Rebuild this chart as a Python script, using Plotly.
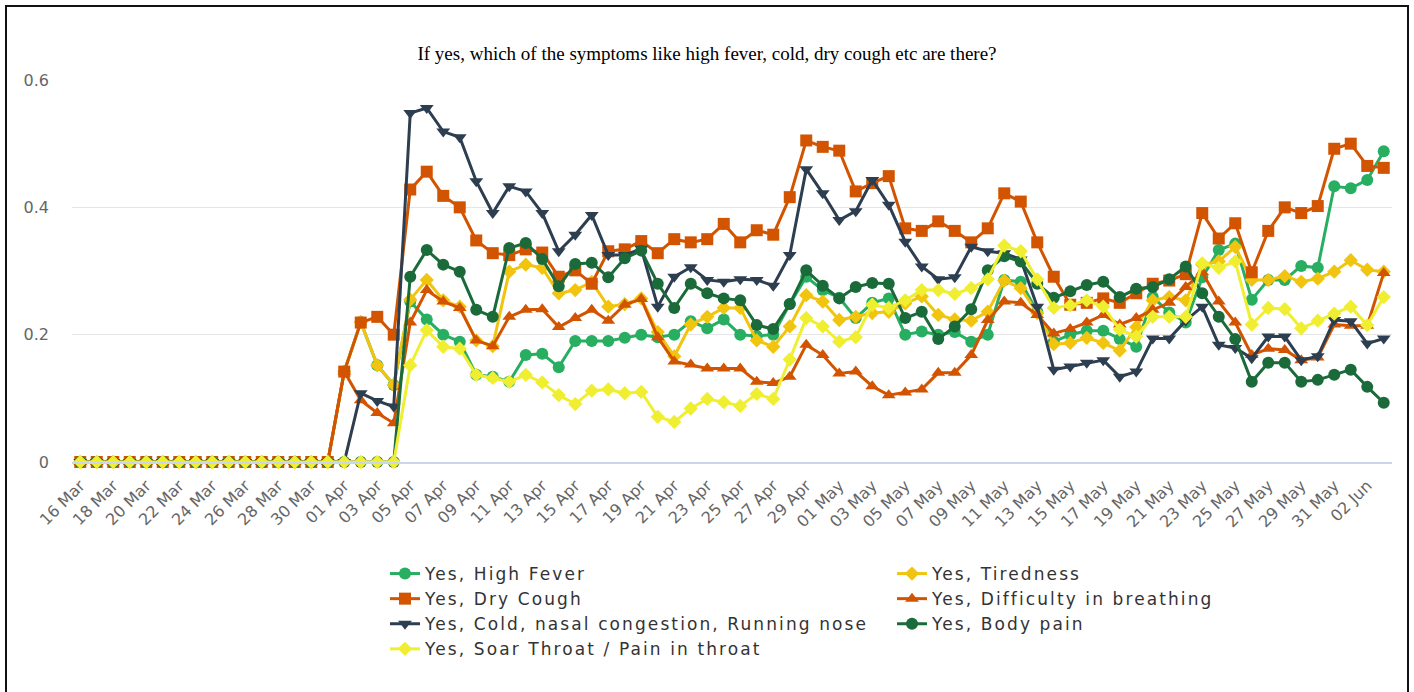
import plotly.graph_objects as go

dates = [
    "16 Mar", "17 Mar", "18 Mar", "19 Mar", "20 Mar", "21 Mar", "22 Mar", "23 Mar",
    "24 Mar", "25 Mar", "26 Mar", "27 Mar", "28 Mar", "29 Mar", "30 Mar", "31 Mar",
    "01 Apr", "02 Apr", "03 Apr", "04 Apr", "05 Apr", "06 Apr", "07 Apr", "08 Apr",
    "09 Apr", "10 Apr", "11 Apr", "12 Apr", "13 Apr", "14 Apr", "15 Apr", "16 Apr",
    "17 Apr", "18 Apr", "19 Apr", "20 Apr", "21 Apr", "22 Apr", "23 Apr", "24 Apr",
    "25 Apr", "26 Apr", "27 Apr", "28 Apr", "29 Apr", "30 Apr", "01 May", "02 May",
    "03 May", "04 May", "05 May", "06 May", "07 May", "08 May", "09 May", "10 May",
    "11 May", "12 May", "13 May", "14 May", "15 May", "16 May", "17 May", "18 May",
    "19 May", "20 May", "21 May", "22 May", "23 May", "24 May", "25 May", "26 May",
    "27 May", "28 May", "29 May", "30 May", "31 May", "01 Jun", "02 Jun", "03 Jun",
]

zeros16 = [0.0] * 16

high_fever = zeros16 + [
    0.142, 0.220, 0.152, 0.121, 0.252, 0.224, 0.200, 0.189, 0.137, 0.134,
    0.126, 0.168, 0.170, 0.149, 0.190, 0.190, 0.190, 0.195, 0.200, 0.196,
    0.200, 0.221, 0.210, 0.224, 0.200, 0.198, 0.200, 0.248, 0.291, 0.270,
    0.258, 0.226, 0.250, 0.257, 0.200, 0.205, 0.200, 0.204, 0.189, 0.200,
    0.286, 0.283, 0.236, 0.189, 0.200, 0.206, 0.206, 0.193, 0.181, 0.259,
    0.235, 0.219, 0.290, 0.333, 0.343, 0.255, 0.286, 0.286, 0.308, 0.305,
    0.433, 0.430, 0.443, 0.488,
]

tiredness = zeros16 + [
    0.142, 0.220, 0.152, 0.121, 0.255, 0.286, 0.254, 0.244, 0.191, 0.182,
    0.299, 0.310, 0.305, 0.265, 0.270, 0.283, 0.244, 0.248, 0.257, 0.204,
    0.166, 0.216, 0.228, 0.242, 0.242, 0.191, 0.181, 0.213, 0.262, 0.252,
    0.223, 0.228, 0.234, 0.236, 0.249, 0.260, 0.231, 0.224, 0.222, 0.236,
    0.285, 0.273, 0.234, 0.185, 0.187, 0.195, 0.187, 0.175, 0.212, 0.254,
    0.259, 0.254, 0.310, 0.315, 0.338, 0.286, 0.286, 0.292, 0.283, 0.288,
    0.299, 0.317, 0.302, 0.299,
]

dry_cough = zeros16 + [
    0.142, 0.219, 0.228, 0.200, 0.428, 0.456, 0.418, 0.400, 0.348, 0.328,
    0.325, 0.334, 0.329, 0.291, 0.301, 0.280, 0.331, 0.334, 0.347, 0.328,
    0.350, 0.345, 0.350, 0.374, 0.345, 0.364, 0.357, 0.416, 0.505, 0.495,
    0.489, 0.425, 0.438, 0.449, 0.367, 0.363, 0.378, 0.363, 0.345, 0.367,
    0.422, 0.409, 0.345, 0.291, 0.247, 0.250, 0.257, 0.250, 0.265, 0.280,
    0.285, 0.295, 0.391, 0.351, 0.375, 0.298, 0.363, 0.400, 0.391, 0.402,
    0.492, 0.500, 0.465, 0.462,
]

breathing = zeros16 + [
    0.142, 0.097, 0.077, 0.061, 0.219, 0.270, 0.252, 0.242, 0.191, 0.182,
    0.228, 0.239, 0.240, 0.212, 0.226, 0.239, 0.222, 0.247, 0.256, 0.196,
    0.158, 0.153, 0.147, 0.147, 0.147, 0.126, 0.124, 0.134, 0.184, 0.168,
    0.139, 0.142, 0.119, 0.105, 0.109, 0.114, 0.140, 0.140, 0.168, 0.223,
    0.252, 0.250, 0.231, 0.202, 0.209, 0.219, 0.231, 0.216, 0.226, 0.239,
    0.250, 0.275, 0.298, 0.252, 0.219, 0.168, 0.178, 0.176, 0.160, 0.164,
    0.216, 0.214, 0.214, 0.297,
]

cold = zeros16 + [
    0.000, 0.108, 0.096, 0.087, 0.548, 0.556, 0.519, 0.510, 0.441, 0.391,
    0.433, 0.425, 0.391, 0.331, 0.357, 0.388, 0.325, 0.325, 0.335, 0.244,
    0.291, 0.306, 0.286, 0.283, 0.287, 0.286, 0.277, 0.325, 0.460, 0.422,
    0.380, 0.394, 0.443, 0.404, 0.346, 0.307, 0.287, 0.290, 0.338, 0.331,
    0.328, 0.318, 0.244, 0.145, 0.150, 0.156, 0.160, 0.134, 0.142, 0.194,
    0.194, 0.222, 0.244, 0.184, 0.179, 0.163, 0.197, 0.197, 0.160, 0.166,
    0.223, 0.221, 0.186, 0.194,
]

body_pain = zeros16 + [
    0.000, 0.000, 0.000, 0.000, 0.291, 0.333, 0.310, 0.299, 0.239, 0.228,
    0.336, 0.344, 0.319, 0.276, 0.311, 0.313, 0.290, 0.320, 0.332, 0.280,
    0.242, 0.280, 0.265, 0.257, 0.254, 0.215, 0.209, 0.248, 0.301, 0.277,
    0.257, 0.275, 0.281, 0.280, 0.226, 0.236, 0.193, 0.213, 0.240, 0.301,
    0.323, 0.315, 0.280, 0.258, 0.268, 0.278, 0.283, 0.259, 0.272, 0.275,
    0.287, 0.307, 0.265, 0.228, 0.193, 0.126, 0.156, 0.156, 0.126, 0.129,
    0.137, 0.145, 0.118, 0.093,
]

soar_throat = zeros16 + [
    0.000, 0.000, 0.000, 0.000, 0.152, 0.207, 0.181, 0.178, 0.137, 0.132,
    0.126, 0.137, 0.125, 0.105, 0.091, 0.112, 0.114, 0.108, 0.110, 0.071,
    0.063, 0.084, 0.099, 0.094, 0.088, 0.107, 0.099, 0.161, 0.226, 0.213,
    0.189, 0.196, 0.247, 0.242, 0.254, 0.270, 0.270, 0.264, 0.273, 0.287,
    0.340, 0.331, 0.287, 0.242, 0.246, 0.254, 0.244, 0.208, 0.197, 0.228,
    0.228, 0.228, 0.312, 0.305, 0.315, 0.216, 0.242, 0.240, 0.210, 0.222,
    0.233, 0.244, 0.215, 0.259,
]

series_names = [
    "Yes, High Fever",
    "Yes, Tiredness",
    "Yes, Dry Cough",
    "Yes, Difficulty in breathing",
    "Yes, Cold, nasal congestion, Running nose",
    "Yes, Body pain",
    "Yes, Soar Throat / Pain in throat",
]
series_values = [high_fever, tiredness, dry_cough, breathing, cold, body_pain, soar_throat]
series_colors = ["#27ae60", "#f1c40f", "#d35400", "#d35400", "#2c3e50", "#1b6b3a", "#f0ee30"]
series_symbols = ["circle", "diamond", "square", "triangle-up", "triangle-down", "circle", "diamond"]
series_sizes = [12, 11, 12, 12, 12, 12, 11]

fig = go.Figure()
for name, vals, col, sym, sz in zip(series_names, series_values, series_colors, series_symbols, series_sizes):
    fig.add_trace(go.Scatter(
        x=dates, y=vals, mode="lines+markers",
        name='<span style="letter-spacing:2.1px">' + name + '</span>',
        line=dict(color=col, width=3),
        marker=dict(color=col, symbol=sym, size=sz),
        cliponaxis=False,
    ))

L, R, T, B = 72, 22, 80, 230
W, H = 1414, 692
pw, ph = W - L - R, H - T - B

def px_x(px):
    return (px - L) / pw

def px_y(py):
    return (H - B - py) / ph

fig.update_layout(
    width=W, height=H,
    autosize=False,
    margin=dict(l=L, r=R, t=T, b=B, autoexpand=False),
    paper_bgcolor="white", plot_bgcolor="white",
    title=dict(
        text="If yes, which of the symptoms like high fever, cold, dry cough etc are there?",
        font=dict(family="Liberation Serif", size=19, color="black"),
        x=0.5, xref="container", xanchor="center",
        y=1 - 53 / H, yref="container", yanchor="middle",
    ),
    font=dict(family="DejaVu Sans", color="#666666"),
    showlegend=True,
    legend=dict(
        orientation="h",
        x=px_x(385), xanchor="left",
        y=px_y(556), yanchor="top",
        entrywidth=462, entrywidthmode="pixels",
        font=dict(family="DejaVu Sans", size=17, color="#333333"),
        traceorder="normal",
        bgcolor="rgba(0,0,0,0)",
    ),
    xaxis=dict(
        type="category",
        range=[-0.5, len(dates) - 0.5],
        tickmode="array",
        tickvals=dates[::2],
        ticktext=dates[::2],
        tickangle=-45,
        tickfont=dict(family="DejaVu Sans", size=16, color="#666666"),
        showgrid=False,
        showline=True, linecolor="#ccd6eb", linewidth=2,
        ticks="",
        zeroline=False,
        ticklabelstandoff=6,
    ),
    yaxis=dict(
        range=[0, 0.6],
        tickvals=[0, 0.2, 0.4, 0.6],
        ticktext=["0", "0.2", "0.4", "0.6"],
        tickfont=dict(family="DejaVu Sans", size=16, color="#666666"),
        showgrid=True, gridcolor="#e6e6e6", gridwidth=1,
        zeroline=False,
        ticks="",
        ticklabelstandoff=22,
    ),
    shapes=[dict(
        type="rect", xref="paper", yref="paper",
        x0=px_x(6), x1=px_x(1408), y0=px_y(720), y1=px_y(6),
        line=dict(color="#111111", width=2), fillcolor="rgba(0,0,0,0)",
        layer="above",
    )],
)

fig.write_html(
    "out.html",
    config={"responsive": False, "displayModeBar": False},
    post_script="document.body.style.margin='0px';document.body.style.overflow='hidden';",
)
